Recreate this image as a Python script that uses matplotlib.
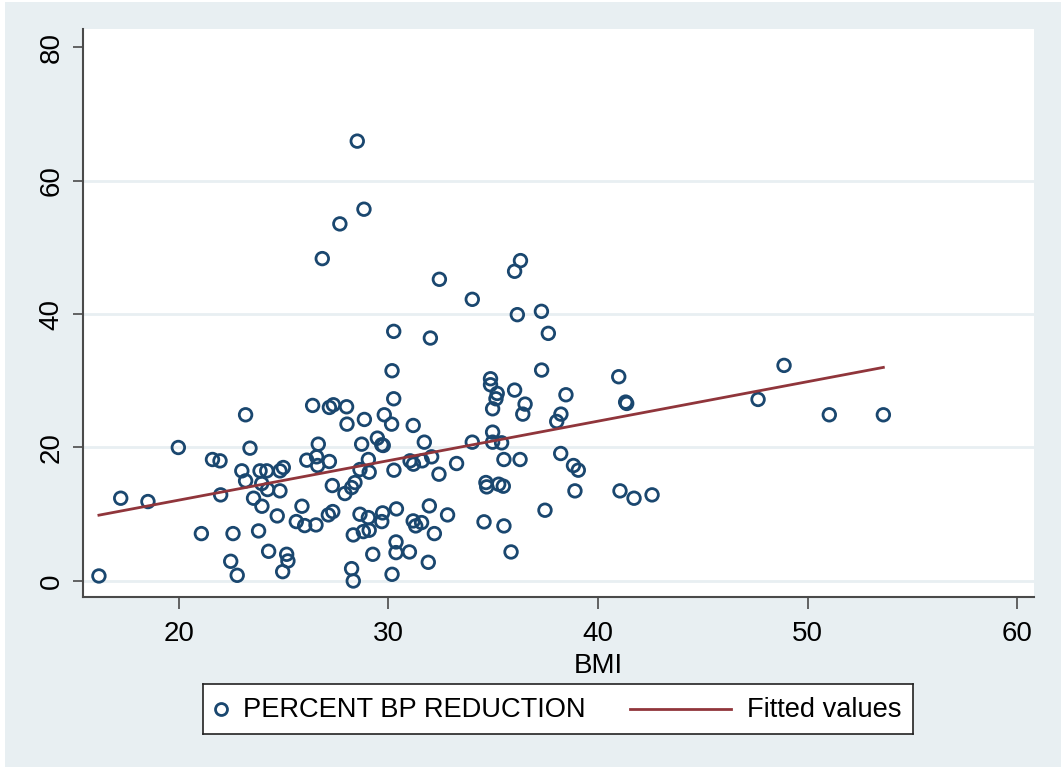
"""Scatter of blood pressure reduction against BMI with a linear fit."""
import matplotlib

matplotlib.use("Agg")
import matplotlib.pyplot as plt
from matplotlib.lines import Line2D
from matplotlib.patches import Rectangle

NAVY = "#1a476f"
MAROON = "#90353b"
BG = "#e8eff2"
SPINE = "#4a4a4a"

plt.rcParams["font.family"] = ["Liberation Sans", "DejaVu Sans"]

bmi = [
    16.18, 17.22, 18.52, 19.97, 21.07, 21.60, 21.96, 21.99, 22.47, 22.58,
    22.78, 23.00, 23.18, 23.18, 23.39, 23.56, 23.80, 23.87, 23.95, 23.96,
    24.19, 24.23, 24.28, 24.69, 24.82, 24.82, 24.98, 24.95, 25.14, 25.20,
    25.60, 25.87, 26.00, 26.54, 26.10, 26.57, 26.62, 26.65, 26.38, 27.18,
    27.37, 27.18, 27.32, 27.13, 27.34, 27.92, 28.24, 28.40, 28.00, 28.02,
    28.85, 28.72, 29.47, 29.68, 29.75, 29.04, 28.64, 29.08, 30.26, 29.80,
    30.15, 30.25, 28.64, 29.04, 29.72, 29.68, 28.32, 28.80, 29.08, 30.38,
    30.36, 30.36, 29.25, 28.24, 28.32, 30.17, 31.00, 31.18, 31.71, 31.03,
    31.19, 31.61, 32.06, 32.41, 33.25, 31.95, 32.82, 31.18, 31.30, 31.58,
    32.19, 31.90, 34.00, 34.97, 34.97, 35.40, 35.51, 36.28, 34.65, 34.69,
    35.26, 35.48, 34.56, 35.51, 37.47, 35.85, 34.87, 34.87, 35.19, 35.13,
    34.97, 36.02, 36.52, 36.41, 38.47, 38.03, 38.23, 38.22, 38.83, 39.06,
    38.90, 28.51, 28.83, 27.68, 26.84, 32.43, 34.00, 36.30, 36.02, 36.15,
    37.30, 37.63, 30.25, 32.00, 30.17, 37.31, 48.88, 47.64, 51.04, 53.62,
    40.99, 41.32, 41.37, 41.05, 41.72, 42.58,
]
pct_reduction = [
    0.75, 12.4, 11.9, 20.0, 7.1, 18.2, 18.0, 12.9, 2.95, 7.1,
    0.85, 16.5, 24.9, 15.0, 19.9, 12.4, 7.5, 16.5, 14.6, 11.2,
    16.5, 13.7, 4.45, 9.75, 16.5, 13.5, 17.0, 1.4, 4.0, 3.0,
    8.9, 11.2, 8.3, 8.4, 18.1, 18.6, 17.3, 20.5, 26.3, 26.0,
    26.4, 17.9, 14.3, 9.9, 10.4, 13.1, 14.0, 14.75, 26.1, 23.5,
    24.2, 20.5, 21.4, 20.4, 20.3, 18.2, 16.7, 16.3, 16.6, 24.9,
    23.5, 27.3, 10.0, 9.5, 10.2, 8.9, 6.9, 7.4, 7.6, 10.8,
    5.85, 4.25, 4.0, 1.85, 0.0, 1.0, 4.35, 23.3, 20.8, 18.0,
    17.5, 18.0, 18.6, 16.0, 17.6, 11.25, 9.9, 9.0, 8.25, 8.75,
    7.1, 2.8, 20.8, 22.3, 20.8, 20.7, 18.2, 18.2, 14.75, 14.1,
    14.5, 14.2, 8.86, 8.25, 10.6, 4.35, 30.3, 29.4, 28.1, 27.3,
    25.8, 28.6, 26.5, 25.0, 27.9, 23.9, 25.0, 19.1, 17.3, 16.6,
    13.5, 65.9, 55.7, 53.5, 48.3, 45.2, 42.2, 48.0, 46.4, 39.9,
    40.4, 37.1, 37.4, 36.4, 31.5, 31.6, 32.3, 27.2, 24.9, 24.9,
    30.6, 26.8, 26.6, 13.5, 12.4, 12.9,
]

# fitted line, drawn from the smallest to the largest BMI
fit_bmi = [16.18, 53.62]
fit_values = [9.86, 32.0]

x_ticks = [20, 30, 40, 50, 60]
y_ticks = [0, 20, 40, 60, 80]
y_grid = [0, 20, 40, 60]

W, H = 1063, 769
fig = plt.figure(figsize=(W / 100, H / 100), dpi=100)
fig.patch.set_facecolor("white")
fig.add_artist(
    Rectangle((5 / W, 2 / H), (W - 7) / W, (H - 4) / H,
              transform=fig.transFigure, facecolor=BG, edgecolor="none",
              zorder=0)
)

ax = fig.add_axes([83 / W, (H - 597) / H, (1034 - 83) / W, (597 - 29) / H])
ax.set_facecolor("white")

for y in y_grid:
    ax.axhline(y, color=BG, linewidth=2, zorder=1)

ax.scatter(bmi, pct_reduction, s=82, facecolors="none", edgecolors=NAVY,
           linewidths=2.0, zorder=3)
ax.plot(fit_bmi, fit_values, color=MAROON, linewidth=2.0, zorder=4)

ax.set_xlim(15.42, 60.81)
ax.set_ylim(-2.4, 82.7)
ax.set_xticks(x_ticks)
ax.set_yticks(y_ticks)

for side in ("top", "right"):
    ax.spines[side].set_visible(False)
for side in ("left", "bottom"):
    ax.spines[side].set_color(SPINE)
    ax.spines[side].set_linewidth(1.5)

ax.tick_params(axis="x", length=8.5, width=1.2, color=SPINE, pad=9,
               labelsize=20)
ax.tick_params(axis="y", length=7.2, width=1.2, color=SPINE, pad=6,
               labelsize=20, labelrotation=90)
for label in ax.get_yticklabels():
    label.set_va("center")

ax.set_xlabel("BMI", fontsize=20)
ax.xaxis.set_label_coords((598 - 83) / (1034 - 83), -(666 - 597) / (597 - 29),
                          transform=ax.transAxes)
ax.xaxis.label.set_va("center")

# legend box below the axis title
leg = fig.add_axes([203 / W, (H - 734) / H, (913 - 203) / W, 50 / H])
leg.set_xlim(203, 913)
leg.set_ylim(734, 684)
leg.set_xticks([])
leg.set_yticks([])
for spine in leg.spines.values():
    spine.set_linewidth(1.2)
    spine.set_color("#222222")
leg.add_line(Line2D([221], [709], marker="o", markersize=8.6,
                    markerfacecolor="none", markeredgecolor=NAVY,
                    markeredgewidth=2.0, linestyle="none"))
leg.text(243, 710, "PERCENT BP REDUCTION", fontsize=19.6, va="center")
leg.add_line(Line2D([630, 731], [709, 709], color=MAROON, linewidth=2.0))
leg.text(747, 710, "Fitted values", fontsize=19.6, va="center")

fig.savefig("out.png", dpi=100)
